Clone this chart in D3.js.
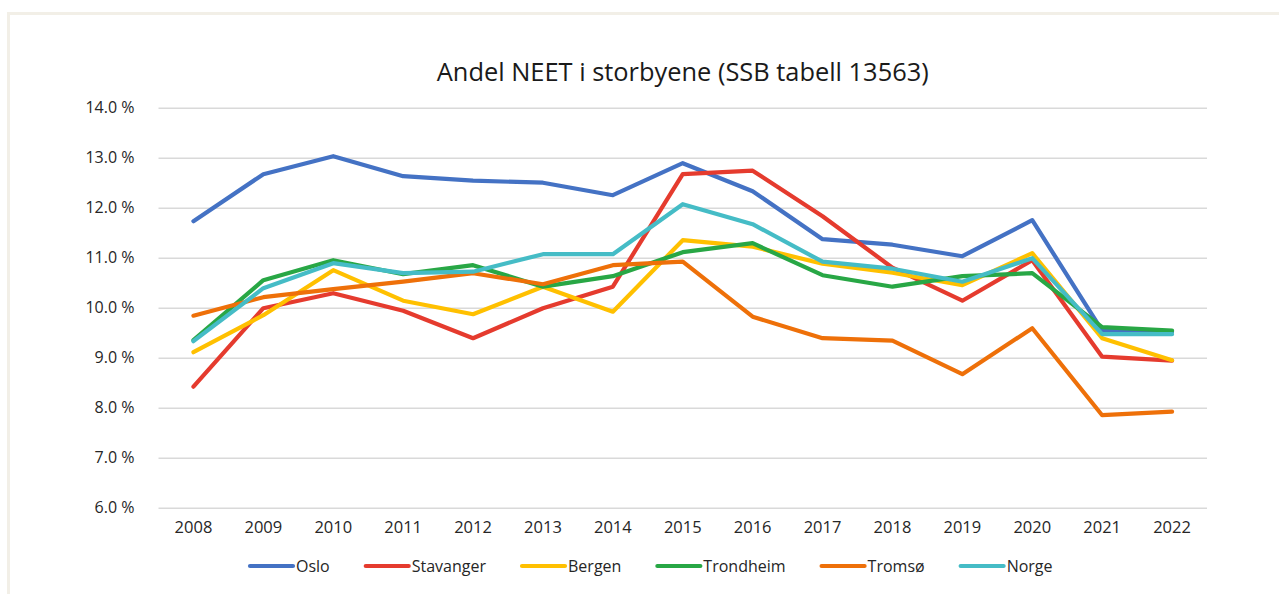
<!DOCTYPE html>
<html>
<head>
<meta charset="utf-8">
<script src="https://cdn.jsdelivr.net/npm/d3@7"></script>
<style>
  html, body { margin: 0; padding: 0; background: #ffffff; }
  svg { display: block; font-family: "Open Sans", sans-serif; }
</style>
</head>
<body>
<svg id="chart" width="1279" height="594"></svg>
<script>
// ---- data ----
const years = ["2008","2009","2010","2011","2012","2013","2014","2015","2016","2017","2018","2019","2020","2021","2022"];
const oslo      = [11.73,12.67,13.03,12.63,12.54,12.50,12.25,12.89,12.33,11.37,11.26,11.03,11.75,9.54,9.52];
const stavanger = [8.42, 9.99,10.29, 9.94, 9.39, 9.99,10.42,12.67,12.74,11.83,10.80,10.14,10.95,9.02,8.94];
const bergen    = [9.11, 9.85,10.75,10.14, 9.87,10.42, 9.92,11.35,11.22,10.88,10.70,10.45,11.09,9.39,8.95];
const trondheim = [9.35,10.55,10.95,10.67,10.85,10.42,10.63,11.11,11.29,10.65,10.42,10.63,10.69,9.61,9.54];
const tromso    = [9.84,10.21,10.37,10.52,10.69,10.47,10.85,10.92, 9.82, 9.39, 9.34, 8.67, 9.59,7.85,7.92];
const norge     = [9.33,10.39,10.89,10.69,10.72,11.07,11.07,12.07,11.67,10.92,10.78,10.52,10.99,9.47,9.47];
const seriesNames = ["Oslo","Stavanger","Bergen","Trondheim","Tromsø","Norge"];
const yTicks = [6,7,8,9,10,11,12,13,14];
const title = "Andel NEET i storbyene (SSB tabell 13563)";

// ---- styles ----
const colors = ["#4472C4","#E53B2E","#FFC000","#28A745","#EE7009","#45BCC6"];
const seriesValues = [oslo, stavanger, bergen, trondheim, tromso, norge];

const svg = d3.select("#chart");
const W = 1279, H = 594;
const m = {left: 158.5, right: 72, top: 107.7, bottom: 86.3};

// frame
svg.append("rect").attr("x", 8.5).attr("y", 13.5).attr("width", W).attr("height", H)
  .attr("fill", "none").attr("stroke", "#F2EFE7").attr("stroke-width", 3);

const x = d3.scaleBand().domain(years).range([m.left, W - m.right]);
const y = d3.scaleLinear().domain([6, 14]).range([H - m.bottom, m.top]);

// gridlines
const yAxis = d3.axisLeft(y).tickValues(yTicks)
  .tickSize(-(W - m.right - m.left))
  .tickFormat(d => d3.format(".1f")(d) + " %");
const gy = svg.append("g").attr("transform", `translate(${m.left},0)`).call(yAxis);
gy.attr("font-size", 16).attr("font-family", "Open Sans, sans-serif");
gy.select(".domain").remove();
gy.selectAll(".tick line").attr("stroke", "#D9D9D9").attr("stroke-width", 1.5);
gy.selectAll(".tick text").attr("x", -24).attr("fill", "#262626")
  .style("font-size", "16px");

// x axis labels
const xAxis = d3.axisBottom(x).tickSize(0).tickPadding(14);
const gx = svg.append("g").attr("transform", `translate(0,${H - m.bottom})`).call(xAxis);
gx.attr("font-size", 16.5).attr("font-family", "Open Sans, sans-serif");
gx.select(".domain").remove();
gx.selectAll(".tick text").attr("fill", "#262626").style("font-size", "16.5px");

// lines
const line = d3.line()
  .x((d, i) => x(years[i]) + x.bandwidth() / 2)
  .y(d => y(d));
seriesValues.forEach((vals, k) => {
  svg.append("path").datum(vals)
    .attr("d", line)
    .attr("fill", "none")
    .attr("stroke", colors[k])
    .attr("stroke-width", 4.2)
    .attr("stroke-linejoin", "round")
    .attr("stroke-linecap", "round");
});

// title
svg.append("text").attr("x", (m.left + W - m.right) / 2).attr("y", 81)
  .attr("text-anchor", "middle").attr("font-size", 25.4).attr("fill", "#1a1a1a")
  .text(title);

// legend
const lg = svg.append("g").attr("transform", "translate(250,566)");
let cx = 0;
seriesNames.forEach((name, k) => {
  const g = lg.append("g").attr("transform", `translate(${cx},0)`);
  g.append("line").attr("x1", 0).attr("x2", 43).attr("y1", 0).attr("y2", 0)
    .attr("stroke", colors[k]).attr("stroke-width", 4.2).attr("stroke-linecap", "round");
  const t = g.append("text").attr("x", 46).attr("y", 5.5).attr("font-size", 16)
    .attr("fill", "#262626").text(name);
  const tw = t.node().getComputedTextLength();
  cx += 46 + tw + 36;
});
</script>
</body>
</html>
